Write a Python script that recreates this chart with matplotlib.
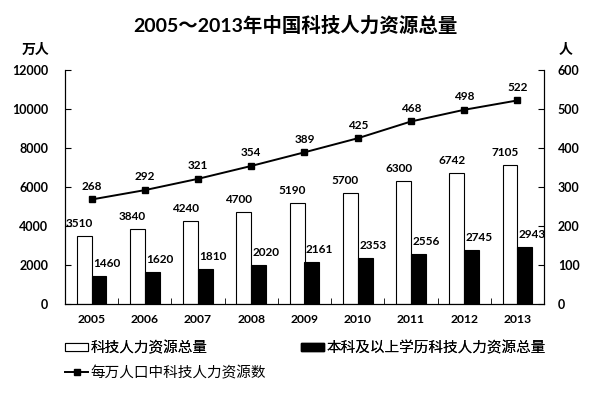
import matplotlib
matplotlib.use("Agg")
import matplotlib.pyplot as plt
import numpy as np
from matplotlib.lines import Line2D
from matplotlib.patches import Patch

plt.rcParams['font.family'] = ['Lato', 'Noto Sans CJK SC', 'DejaVu Sans']

years = ['2005', '2006', '2007', '2008', '2009', '2010', '2011', '2012', '2013']
total = [3510, 3840, 4240, 4700, 5190, 5700, 6300, 6742, 7105]
bachelor = [1460, 1620, 1810, 2020, 2161, 2353, 2556, 2745, 2943]
per_10k = [268, 292, 321, 354, 389, 425, 468, 498, 522]

title = '2005～2013年中国科技人力资源总量'
label_total = '科技人力资源总量'
label_bach = '本科及以上学历科技人力资源总量'
label_line = '每万人口中科技人力资源数'

cjk = ['Noto Sans CJK SC', 'DejaVu Sans']

fig = plt.figure(figsize=(6, 3.96), dpi=100)
ax = fig.add_axes([0.1083, 0.2323, 0.7984, 0.5909])
ax2 = ax.twinx()

x = np.arange(len(years))
w = 0.28
ax.bar(x - w / 2, total, w, color='white', edgecolor='black', linewidth=0.8, zorder=2)
ax.bar(x + w / 2, bachelor, w, color='black', edgecolor='black', linewidth=0.8, zorder=2)

for i in range(len(years)):
    ax.annotate(str(total[i]), (x[i] - w / 2, total[i]), xytext=(-3.5, 9),
                textcoords='offset points', ha='center', va='center',
                fontsize=8.5, fontweight='bold')
    ax.annotate(str(bachelor[i]), (x[i] + w / 2, bachelor[i]), xytext=(5.5, 9),
                textcoords='offset points', ha='center', va='center',
                fontsize=8.5, fontweight='bold')

ax2.plot(x, per_10k, color='black', linewidth=1.4, marker='s', markersize=4.5, zorder=3)
for i in range(len(years)):
    ax2.annotate(str(per_10k[i]), (x[i], per_10k[i]), xytext=(0, 9.5),
                 textcoords='offset points', ha='center', va='center',
                 fontsize=8.5, fontweight='bold')

ax.set_xlim(-0.5, len(years) - 0.5)
ax.set_ylim(0, 12000)
ax2.set_ylim(0, 600)
ax.set_yticks(np.arange(0, 12001, 2000))
ax2.set_yticks(np.arange(0, 601, 100))
ax.set_xticks(x)
ax.set_xticklabels(years)
ax.set_xticks(np.arange(-0.5, len(years), 1), minor=True)

for a in (ax, ax2):
    a.spines['top'].set_visible(False)
    for s in a.spines.values():
        s.set_linewidth(0.8)
ax.tick_params(axis='x', which='major', length=0, pad=7, labelsize=8.7)
ax.tick_params(axis='x', which='minor', direction='in', length=4)
ax.tick_params(axis='y', direction='in', length=4, labelsize=9, pad=12)
ax2.tick_params(axis='y', direction='in', length=4, labelsize=9, pad=10)
for lab in ax.get_xticklabels() + ax.get_yticklabels() + ax2.get_yticklabels():
    lab.set_fontweight('bold')

fig.text(0.493, 0.937, title, ha='center', va='center', fontsize=14, fontweight='bold',
         family=['Lato', 'Noto Sans CJK SC'])
fig.text(0.06, 0.874, '万人', ha='center', va='center', fontsize=10, family=cjk, fontweight='bold')
fig.text(0.942, 0.874, '人', ha='center', va='center', fontsize=10, family=cjk, fontweight='bold')

h_white = Patch(facecolor='white', edgecolor='black', linewidth=0.8)
h_line = Line2D([], [], color='black', marker='s', markersize=4.5, linewidth=1.4)
h_black = Patch(facecolor='black', edgecolor='black')

common = dict(loc='center left', frameon=False, prop={'family': cjk, 'size': 10.5},
              handlelength=1.6, handleheight=0.5, handletextpad=0.15,
              borderaxespad=0, borderpad=0)
leg1 = fig.legend([h_white], [label_total], bbox_to_anchor=(65 / 600, 1 - 348 / 396), **common)
fig.add_artist(leg1)
leg2 = fig.legend([h_black], [label_bach], bbox_to_anchor=(301 / 600, 1 - 348 / 396), **common)
fig.add_artist(leg2)
leg3 = fig.legend([h_line], [label_line], bbox_to_anchor=(65 / 600, 1 - 373 / 396), **common)

fig.savefig('out.png', dpi=100)
